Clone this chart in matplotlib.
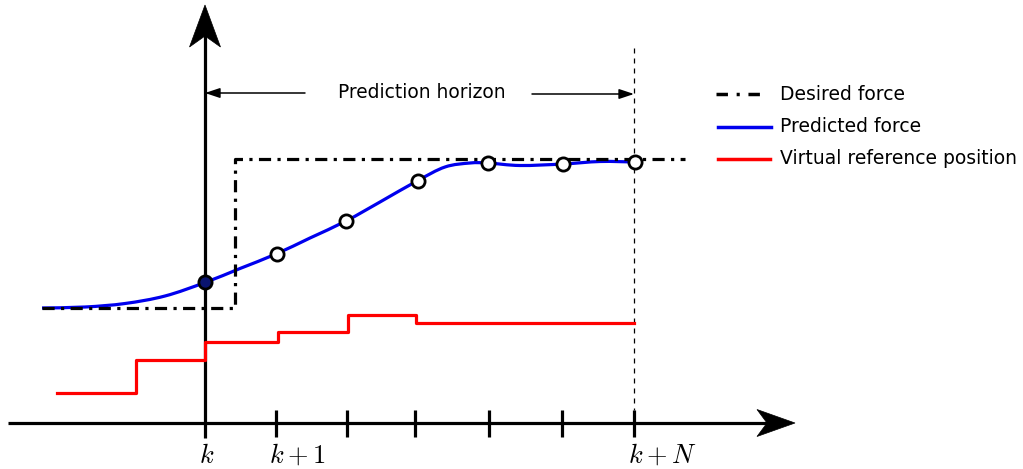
import numpy as np
import matplotlib
matplotlib.use('Agg')
import matplotlib.pyplot as plt
from matplotlib.path import Path
from matplotlib.patches import PathPatch

plt.rcParams['mathtext.fontset'] = 'cm'
plt.rcParams['font.family'] = 'DejaVu Sans'

# sketch coordinates (x to the right, y downwards, same units as the canvas)
tick_x = [205, 276, 347, 415, 489, 562, 634]
tick_labels = {205: r'$k$', 276: r'$k+1$', 634: r'$k+N$'}
label_x = {205: 207, 276: 297, 634: 662}

# desired force: step reference
desired_x = [42, 235, 235, 685]
desired_y = [308, 308, 159, 159]

# predicted force trajectory
pred_x = [42, 85, 125, 165, 205, 240, 276, 310, 346, 380, 417, 445,
          470, 488, 520, 563, 600, 634]
pred_y = [308, 307, 303.5, 296, 282.5, 268.5, 254, 238, 221, 202, 181, 167,
          163, 163, 165.5, 164, 161.5, 162]

# predicted samples at the ticks
sample_x = [205, 277, 346, 418, 488, 563, 635]
sample_y = [282, 254, 221, 181, 163, 164, 162]

# virtual reference position (zero-order hold)
ref_x = [57, 136, 205, 278, 348, 416, 634]
ref_y = [393, 360, 342, 332, 315, 323, 323]


def smooth_path(xs, ys):
    # Catmull-Rom through the points, written as cubic Bezier segments
    pts = np.column_stack([xs, ys]).astype(float)
    ext = np.vstack([pts[0], pts, pts[-1]])
    verts = [pts[0]]
    codes = [Path.MOVETO]
    for i in range(1, len(ext) - 2):
        p0, p1, p2, p3 = ext[i - 1], ext[i], ext[i + 1], ext[i + 2]
        verts += [p1 + (p2 - p0) / 6, p2 - (p3 - p1) / 6, p2]
        codes += [Path.CURVE4] * 3
    return Path(verts, codes)


def stealth(ax, tip, direction, length, half_width, notch):
    # concave arrow head pointing along direction
    d = np.asarray(direction, float)
    n = np.array([-d[1], d[0]])
    tip = np.asarray(tip, float)
    base = tip - d * length
    verts = [tip, base + n * half_width, tip - d * (length - notch),
             base - n * half_width, tip]
    codes = [Path.MOVETO, Path.LINETO, Path.LINETO, Path.LINETO, Path.CLOSEPOLY]
    ax.add_patch(PathPatch(Path(verts, codes), facecolor='black', edgecolor='black',
                           lw=0.5, joinstyle='miter', zorder=6))


fig = plt.figure(figsize=(10.23, 4.69), dpi=100)
ax = fig.add_axes([0, 0, 1, 1])
ax.set_xlim(0, 1023)
ax.set_ylim(469, 0)
ax.axis('off')

# time axis and force axis
ax.plot([8, 775], [423, 423], color='black', lw=2.3, solid_capstyle='butt')
ax.plot([205, 205], [438, 35], color='black', lw=2.3, solid_capstyle='butt')
stealth(ax, (795, 423), (1, 0), 38, 13.5, 10)
stealth(ax, (205, 5), (0, -1), 42, 15.5, 11)

for x in tick_x[1:]:
    ax.plot([x, x], [410, 437], color='black', lw=2.3, solid_capstyle='butt')
for x, s in tick_labels.items():
    ax.text(label_x[x], 456, s, fontsize=19, ha='center', va='center')

# end of horizon
ax.plot([634, 634], [48, 410], color='black', lw=0.9, dashes=(4, 4))

# prediction horizon annotation
ax.annotate('', xy=(205, 93), xytext=(305, 93),
            arrowprops=dict(arrowstyle='-|>,head_length=0.9,head_width=0.3', color='black', lw=1.1,
                            shrinkA=0, shrinkB=0))
ax.annotate('', xy=(634, 94), xytext=(532, 94),
            arrowprops=dict(arrowstyle='-|>,head_length=0.9,head_width=0.3', color='black', lw=1.1,
                            shrinkA=0, shrinkB=0))
ax.text(422, 92, 'Prediction horizon', fontsize=13.4, ha='center', va='center')

ax.plot(desired_x, desired_y, color='black', lw=2.3, dashes=(3.8, 2.0, 1.0, 2.0))
ax.add_patch(PathPatch(smooth_path(pred_x, pred_y), facecolor='none', edgecolor='#0000ee',
                       lw=2.3, capstyle='butt'))
ax.step(ref_x, ref_y, where='post', color='#ff0000', lw=2.3)

ax.plot(sample_x[1:], sample_y[1:], 'o', ms=9.5, mfc='white', mec='black', mew=2.0, zorder=5)
ax.plot(sample_x[:1], sample_y[:1], 'o', ms=9.5, mfc='#0a1470', mec='black', mew=2.0, zorder=5)

# legend
legend_y = [94, 127, 159]
legend_names = ['Desired force', 'Predicted force', 'Virtual reference position']
ax.plot([716, 768], [legend_y[0]] * 2, color='black', lw=2.5, dashes=(3.3, 2.5, 0.9, 2.5))
ax.plot([718, 771], [legend_y[1]] * 2, color='#0000ee', lw=2.5)
ax.plot([718, 770], [legend_y[2]] * 2, color='#ff0000', lw=2.5)
for y, name in zip(legend_y, legend_names):
    ax.text(780, y, name, fontsize=13.5, ha='left', va='center')

fig.savefig('out.png', dpi=100)
